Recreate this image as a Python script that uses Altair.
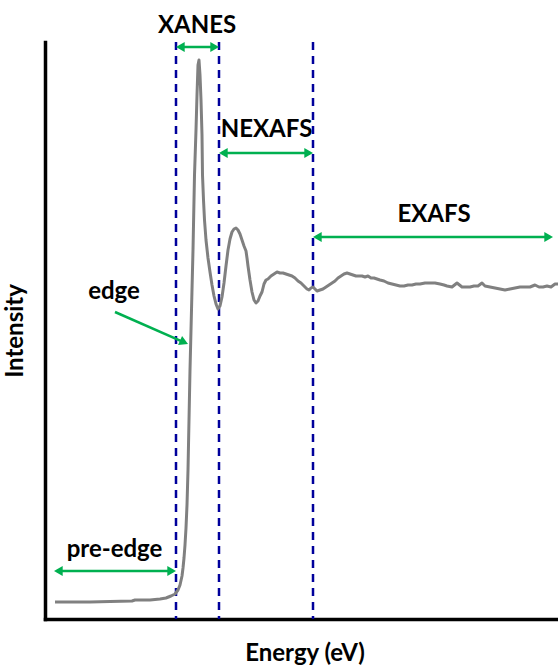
import math

import altair as alt
import pandas as pd

# X-ray absorption spectrum, arbitrary units (energy offset, intensity)
energy = [
    10, 25, 45, 65, 87, 90, 105, 115, 121, 126, 130, 133, 135, 137, 138, 139,
    140, 141, 142, 143, 144, 145, 146, 147, 148, 149, 149.5, 151, 152, 153,
    154, 155, 156, 157, 157.5, 158.5, 159.5, 161, 163, 165, 167, 169, 171,
    173, 175, 177, 179, 181, 183, 185, 187, 189, 191, 193, 195, 197, 199,
    201, 202, 203, 205, 207, 209, 211, 213, 215, 217, 219, 221, 223, 226,
    229, 232, 235, 238, 241, 244, 247, 250, 253, 256, 259, 262, 264, 266,
    268, 270, 272, 275, 278, 281, 284, 287, 290, 293, 296, 299, 302, 305,
    308, 311, 314, 317, 320, 323, 326, 329, 332, 335, 339, 343, 347, 351,
    355, 359, 363, 367, 371, 375, 380, 385, 390, 395, 399, 402, 407, 412,
    417, 421, 425, 429, 433, 437, 440, 445, 450, 455, 460, 465, 470, 475,
    480, 485, 490, 494, 498, 502, 506, 510, 513,
]
intensity = [
    17, 17, 17, 17.5, 18, 19, 19, 20, 21, 23, 25, 29, 34, 43, 51, 61,
    74, 91, 114, 149, 199, 249, 289, 329, 369, 419, 444, 489, 524, 554,
    559, 544, 519, 484, 444, 419, 399, 379, 361, 347, 334, 323, 315,
    310, 313, 322, 336, 353, 369, 380, 387, 390, 391, 389, 385, 379, 373,
    368, 361, 353, 339, 327, 319, 316, 318, 323, 327, 335, 339, 340, 343,
    345, 347, 346, 346, 345, 344, 343, 341, 338, 336, 333, 330, 329, 331,
    332, 330, 328, 329, 330, 332, 334, 336, 338, 341, 343, 345, 346, 345,
    344, 343, 343, 343, 342, 343, 341, 341, 340, 339, 338, 336, 335, 334,
    333, 333, 334, 334, 335, 335, 336, 336, 336, 335, 334, 333, 332, 336,
    332, 332, 332, 333, 333, 336, 333, 332, 331, 330, 329, 330, 331, 332,
    332, 332, 334, 332, 332, 333, 332, 335, 335,
]

# Boundaries between spectral regions
boundaries = [131, 174, 268]

# Two-headed range arrows
range_names = ["pre-edge", "XANES", "NEXAFS", "EXAFS"]
range_start = [9, 131, 174, 268]
range_end = [131, 174, 268, 508]
range_level = [48, 572, 466, 382]

# Pointer to the absorption edge (tail -> head)
edge_tail = [70, 307]
edge_head = [143, 275]

# Region labels
label_text = ["XANES", "NEXAFS", "EXAFS", "edge", "pre-edge"]
label_x = [152, 221.5, 389, 69, 69.5]
label_y = [586, 482, 397, 320, 62]

X_MAX, Y_MAX = 513, 577
FONT = "Lato"
GREEN = "#00B050"
NAVY = "#00009C"
HEAD = 100                      # arrowhead symbol area
HEAD_R = math.sqrt(HEAD) / 2
HEAD_H = HEAD_R * math.sqrt(3) / 2

xscale = alt.Scale(domain=[0, X_MAX], nice=False, zero=False)
yscale = alt.Scale(domain=[0, Y_MAX], nice=False, zero=False)
xaxis = alt.Axis(
    title="Energy (eV)", labels=False, ticks=False, grid=False,
    domainColor="black", domainWidth=3.5, domainCap="square",
    titleFont=FONT, titleFontSize=24, titleFontWeight="bold", titleColor="black",
    titleBaseline="alphabetic", titlePadding=41, titleX=259.5,
)
yaxis = alt.Axis(
    title="Intensity", labels=False, ticks=False, grid=False,
    domainColor="black", domainWidth=3.5, domainCap="square",
    titleFont=FONT, titleFontSize=24, titleFontWeight="bold", titleColor="black",
    titleBaseline="alphabetic", titlePadding=23,
)


def X(field):
    return alt.X(field, type="quantitative", scale=xscale, axis=xaxis)


def Y(field):
    return alt.Y(field, type="quantitative", scale=yscale, axis=yaxis)


spectrum = pd.DataFrame({"energy": energy, "intensity": intensity})
bounds = pd.DataFrame({"energy": boundaries})
ranges = pd.DataFrame({
    "name": range_names, "start": range_start,
    "end": range_end, "level": range_level,
})
edge = pd.DataFrame({
    "x": [edge_tail[0]], "y": [edge_tail[1]],
    "x2": [edge_head[0]], "y2": [edge_head[1]],
})
labels = pd.DataFrame({"text": label_text, "x": label_x, "y": label_y})

curve = alt.Chart(spectrum).mark_line(
    color="#808080", strokeWidth=3, strokeJoin="round", interpolate="linear"
).encode(x=X("energy"), y=Y("intensity"), order="energy:Q")

guides = alt.Chart(bounds).mark_rule(
    color=NAVY, strokeWidth=2.5, strokeDash=[8, 6]
).encode(x=X("energy"))

shafts = alt.Chart(ranges).mark_rule(
    color=GREEN, strokeWidth=2.5, xOffset=3, x2Offset=-3
).encode(x=X("start"), x2="end", y=Y("level"))

heads_left = alt.Chart(ranges).mark_point(
    shape="triangle-left", size=HEAD, filled=True, opacity=1,
    color=GREEN, strokeWidth=0, xOffset=HEAD_H,
).encode(x=X("start"), y=Y("level"))

heads_right = alt.Chart(ranges).mark_point(
    shape="triangle-right", size=HEAD, filled=True, opacity=1,
    color=GREEN, strokeWidth=0, xOffset=-HEAD_H,
).encode(x=X("end"), y=Y("level"))

# direction of the edge pointer on screen (y grows downward)
dx = edge_head[0] - edge_tail[0]
dy = edge_tail[1] - edge_head[1]
ang = math.atan2(dy, dx)
edge_shaft = alt.Chart(edge).mark_rule(
    color=GREEN, strokeWidth=2.5,
    x2Offset=-3 * math.cos(ang), y2Offset=-3 * math.sin(ang),
).encode(x=X("x"), y=Y("y"), x2="x2", y2="y2")

edge_head_mark = alt.Chart(edge).mark_point(
    shape="triangle-right", size=HEAD, filled=True, opacity=1,
    color=GREEN, strokeWidth=0, angle=math.degrees(ang),
    xOffset=-HEAD_H * math.cos(ang), yOffset=-HEAD_H * math.sin(ang),
).encode(x=X("x2"), y=Y("y2"))

text = alt.Chart(labels).mark_text(
    font=FONT, fontSize=24, fontWeight="bold", color="black",
    align="center", baseline="alphabetic",
).encode(x=X("x"), y=Y("y"), text="text:N")

chart = alt.layer(
    guides, curve, shafts, heads_left, heads_right, edge_shaft, edge_head_mark, text
).properties(
    width=X_MAX, height=Y_MAX,
    padding={"left": 45, "top": 42, "right": 0, "bottom": 47},
    autosize=alt.AutoSizeParams(type="none"),
    background="white",
).configure_view(stroke="transparent")

chart.save("out.html", embed_options={"renderer": "svg", "actions": False})
